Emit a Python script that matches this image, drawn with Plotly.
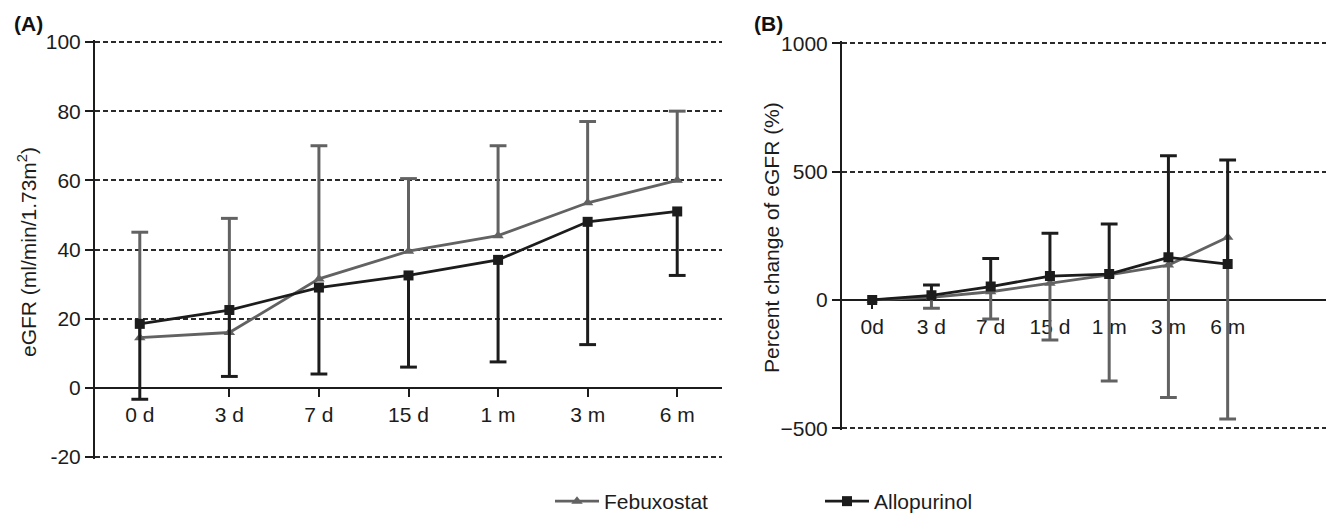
import plotly.graph_objects as go

# ---------------- data ----------------
timepoints_a = ["0 d", "3 d", "7 d", "15 d", "1 m", "3 m", "6 m"]
timepoints_b = ["0d", "3 d", "7 d", "15 d", "1 m", "3 m", "6 m"]
x_idx = [0, 1, 2, 3, 4, 5, 6]

# Panel A: eGFR (ml/min/1.73m2)
feb_egfr = [14.5, 16, 31.5, 39.5, 44, 53.5, 60]
feb_egfr_upper = [45, 49, 70, 60.5, 70, 77, 80]
allo_egfr = [18.5, 22.5, 29, 32.5, 37, 48, 51]
allo_egfr_lower = [-3.3, 3.3, 4, 6, 7.5, 12.5, 32.5]

# Panel B: percent change of eGFR (%)
feb_pct = [0, 10, 32, 65, 98, 136, 244]
feb_pct_lower = [0, -32, -74, -156, -316, -380, -464]
allo_pct = [0, 18, 52, 93, 101, 166, 140]
allo_pct_upper = [0, 58, 162, 260, 296, 562, 545]

ya_ticks = [-20, 0, 20, 40, 60, 80, 100]
ya_ticktext = ["-20", "0", "20", "40", "60", "80", "100"]
yb_ticks = [-500, 0, 500, 1000]

# ---------------- style ----------------
GREY = "#626262"
BLACK = "#1c1c1c"
AXC = "#1c1c1c"
FONT = "Liberation Sans, Arial, sans-serif"
FS = 21
W, H = 1331, 522
LEG_PUSH = 7            # bottom margin that the legend reserves
PH = H - LEG_PUSH       # height of the paper (plotting) area


def py(px_from_top):
    """paper fraction for a pixel row measured from the top of the figure"""
    return 1 - px_from_top / PH


# ranges padded by ~2px so the edge gridlines (100, -20, 1000, -500) are kept
ya_range = [-20.6, 100.6]
yb_range = [-508, 1008]
xa_dom = [95 / W, 722 / W]
ya_dom = [py(459.1), py(39.9)]
xb_dom = [842 / W, 1326 / W]
yb_dom = [py(430.35), py(41.25)]


def zero_pos(dom, rng):
    return dom[0] + (dom[1] - dom[0]) * (0 - rng[0]) / (rng[1] - rng[0])


fig = go.Figure()


def add_series(xref, yref, y, ends, color, symbol, name, showlegend):
    up = [max(e - v, 0) for v, e in zip(y, ends)]
    dn = [max(v - e, 0) for v, e in zip(y, ends)]
    fig.add_trace(go.Scatter(
        x=x_idx, y=y, mode="lines+markers", name=name, showlegend=showlegend,
        xaxis=xref, yaxis=yref, legendgroup=name,
        line=dict(color=color, width=2.8),
        marker=dict(symbol=symbol, size=10, color=color),
        error_y=dict(type="data", symmetric=False, array=up, arrayminus=dn,
                     color=color, thickness=3, width=0),
    ))
    caps = [e if e != v else None for v, e in zip(y, ends)]
    fig.add_trace(go.Scatter(
        x=x_idx, y=caps, mode="markers", showlegend=False, hoverinfo="skip",
        xaxis=xref, yaxis=yref, legendgroup=name,
        marker=dict(symbol="line-ew", size=12, color=color,
                    line=dict(color=color, width=3)),
    ))


add_series("x", "y", feb_egfr, feb_egfr_upper, GREY, "triangle-up", "Febuxostat", True)
add_series("x", "y", allo_egfr, allo_egfr_lower, BLACK, "square", "Allopurinol", True)
add_series("x2", "y2", feb_pct, feb_pct_lower, GREY, "triangle-up", "Febuxostat", False)
add_series("x2", "y2", allo_pct, allo_pct_upper, BLACK, "square", "Allopurinol", False)

common_x = dict(showline=True, linecolor=AXC, linewidth=2, ticks="outside",
                ticklen=8, tickwidth=2, tickcolor=AXC, showgrid=False,
                zeroline=False, anchor="free", layer="below traces",
                tickfont=dict(size=FS, color=AXC), automargin=False)
common_y = dict(showline=True, linecolor=AXC, linewidth=2, ticks="outside",
                ticklen=8, tickwidth=2, tickcolor=AXC, showgrid=True,
                gridcolor="#2a2a2a", gridwidth=1.5, griddash="5px,3px",
                zeroline=False, layer="below traces",
                tickfont=dict(size=FS, color=AXC), automargin=False)

fig.update_layout(
    width=W, height=H,
    margin=dict(l=0, r=0, t=0, b=LEG_PUSH),
    paper_bgcolor="white", plot_bgcolor="white",
    font=dict(family=FONT, size=FS, color=AXC),
    xaxis=dict(common_x, domain=xa_dom, range=[-0.5, 6.5],
               position=zero_pos(ya_dom, ya_range),
               tickvals=x_idx, ticktext=timepoints_a),
    yaxis=dict(common_y, domain=ya_dom, range=ya_range, anchor="x",
               tickvals=ya_ticks, ticktext=ya_ticktext),
    xaxis2=dict(common_x, domain=xb_dom, range=[-0.51, 7.66],
                position=zero_pos(yb_dom, yb_range),
                tickvals=x_idx, ticktext=timepoints_b),
    yaxis2=dict(common_y, domain=yb_dom, range=yb_range, anchor="x2",
                tickvals=yb_ticks),
    legend=dict(orientation="h", x=550 / W, xanchor="left",
                y=py(H), yanchor="bottom", entrywidth=211,
                entrywidthmode="pixels", itemwidth=44,
                font=dict(size=FS, color=AXC),
                bgcolor="rgba(0,0,0,0)"),
    showlegend=True,
)

fig.add_annotation(text="eGFR (ml/min/1.73m<sup>2</sup>)", xref="paper", yref="paper",
                   x=27 / W, y=py(252), textangle=-90, showarrow=False,
                   xanchor="center", yanchor="middle", font=dict(size=FS, color=AXC))
fig.add_annotation(text="Percent change of eGFR (%)", xref="paper", yref="paper",
                   x=771 / W, y=py(238), textangle=-90, showarrow=False,
                   xanchor="center", yanchor="middle", font=dict(size=FS, color=AXC))
fig.add_annotation(text="<b>(A)</b>", xref="paper", yref="paper",
                   x=28 / W, y=py(23), showarrow=False,
                   xanchor="center", yanchor="middle", font=dict(size=21, color="#111"))
fig.add_annotation(text="<b>(B)</b>", xref="paper", yref="paper",
                   x=768 / W, y=py(23), showarrow=False,
                   xanchor="center", yanchor="middle", font=dict(size=21, color="#111"))

fig.write_html("out.html")
